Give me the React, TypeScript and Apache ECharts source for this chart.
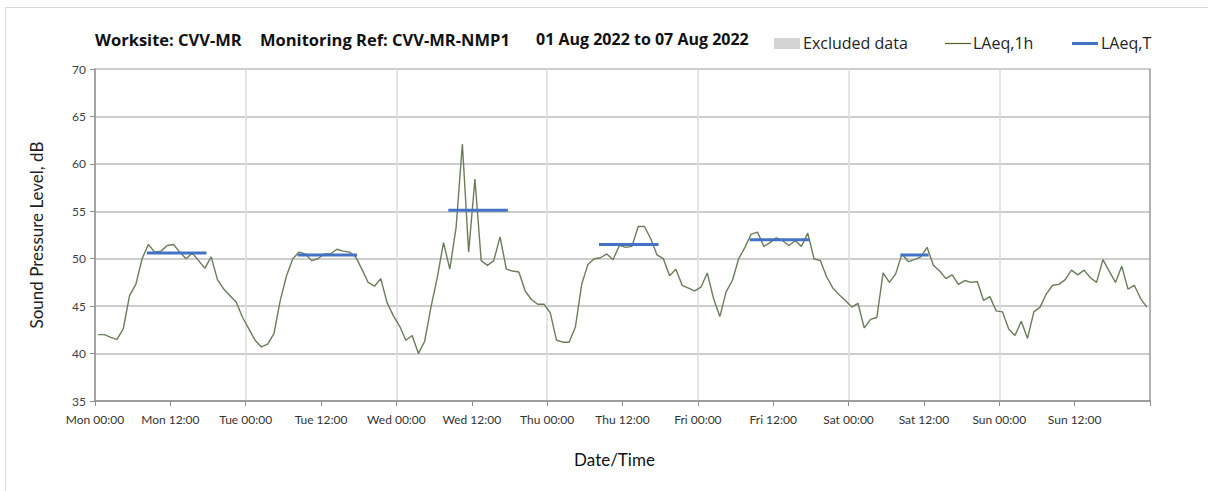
import React, { useEffect, useRef } from 'react';
import * as echarts from 'echarts';

// Tick labels for the x axis (every 12 hours from Mon 00:00)
const xTickLabels = [
  'Mon 00:00', 'Mon 12:00', 'Tue 00:00', 'Tue 12:00', 'Wed 00:00', 'Wed 12:00',
  'Thu 00:00', 'Thu 12:00', 'Fri 00:00', 'Fri 12:00', 'Sat 00:00', 'Sat 12:00',
  'Sun 00:00', 'Sun 12:00',
];

// Hourly LAeq,1h values (dB), Mon 00:00 .. Sun 23:00
const laeqMon = [42.0, 42.0, 41.7, 41.5, 42.6, 46.1, 47.3, 50.0, 51.5, 50.7, 50.8, 51.4, 51.5, 50.7, 50.0, 50.6, 49.8, 49.0, 50.2, 47.8, 46.8, 46.1, 45.4, 43.8];
const laeqTue = [42.6, 41.4, 40.7, 41.0, 42.1, 45.6, 48.2, 50.0, 50.7, 50.5, 49.8, 50.0, 50.5, 50.5, 51.0, 50.8, 50.7, 50.2, 48.9, 47.5, 47.1, 47.9, 45.4, 44.0];
const laeqWed = [42.9, 41.4, 41.9, 40.0, 41.3, 44.9, 48.0, 51.7, 48.9, 53.3, 62.1, 50.7, 58.4, 49.8, 49.3, 49.8, 52.3, 48.9, 48.7, 48.6, 46.6, 45.7, 45.2, 45.2];
const laeqThu = [44.3, 41.4, 41.2, 41.2, 42.8, 47.3, 49.4, 50.0, 50.1, 50.5, 49.9, 51.4, 51.2, 51.3, 53.4, 53.4, 52.1, 50.4, 50.0, 48.2, 48.9, 47.2, 46.9, 46.6];
const laeqFri = [47.0, 48.5, 45.8, 43.9, 46.5, 47.7, 50.0, 51.2, 52.6, 52.8, 51.3, 51.7, 52.2, 51.9, 51.4, 51.9, 51.3, 52.7, 50.0, 49.8, 48.1, 46.9, 46.2, 45.6];
const laeqSat = [44.9, 45.3, 42.7, 43.6, 43.8, 48.5, 47.5, 48.4, 50.5, 49.7, 49.9, 50.2, 51.2, 49.3, 48.7, 47.9, 48.3, 47.3, 47.7, 47.5, 47.6, 45.6, 46.0, 44.5];
const laeqSun = [44.4, 42.6, 41.9, 43.4, 41.6, 44.4, 44.9, 46.3, 47.2, 47.3, 47.8, 48.8, 48.3, 48.8, 48.0, 47.5, 49.9, 48.7, 47.5, 49.2, 46.8, 47.2, 45.8, 44.9];

// LAeq,T daytime periods: day index, first and last hour, value (dB)
const laeqTDay = [0, 1, 2, 3, 4, 5];
const laeqTFirstHour = [8, 8, 8, 8, 8, 8];
const laeqTLastHour = [17, 17, 17, 17, 17, 12];
const laeqTValue = [50.6, 50.4, 55.1, 51.5, 52.0, 50.4];

const FONT = 'Lato, "Open Sans", sans-serif';
const WIDE_FONT = '"Open Sans", Lato, sans-serif';

export default function App() {
  const ref = useRef<HTMLDivElement>(null);

  useEffect(() => {
    if (!ref.current) return;
    const chart = echarts.init(ref.current, undefined, { renderer: 'svg' });

    const hourly = [...laeqMon, ...laeqTue, ...laeqWed, ...laeqThu, ...laeqFri, ...laeqSat, ...laeqSun];
    // each hourly value sits in the middle of its hour
    const lineData = hourly.map((v, i) => [i + 0.5, v]);

    const tSeries = laeqTDay.map((d, k) => ({
      name: 'LAeq,T',
      type: 'line',
      data: [
        [d * 24 + laeqTFirstHour[k] + 0.5, laeqTValue[k]],
        [d * 24 + laeqTLastHour[k] + 0.5, laeqTValue[k]],
      ],
      showSymbol: false,
      symbol: 'none',
      lineStyle: { color: '#4472c4', width: 3, cap: 'square' },
      z: 3,
      silent: true,
    }));

    chart.setOption({
      animation: false,
      textStyle: { fontFamily: FONT },
      grid: { left: 95, right: 58, top: 69, bottom: 90, containLabel: false },
      xAxis: {
        type: 'value',
        min: 0,
        max: 168,
        interval: 12,
        name: 'Date/Time',
        nameLocation: 'middle',
        nameGap: 50,
        nameTextStyle: { fontSize: 17, color: '#111', fontFamily: FONT, padding: [0, 16, 0, 0] },
        axisLine: { show: true, lineStyle: { color: '#8c8c8c', width: 1.5 } },
        axisTick: { show: true, length: 5, lineStyle: { color: '#8c8c8c' } },
        axisLabel: {
          fontSize: 12,
          color: '#333',
          margin: 12,
          fontFamily: FONT,
          formatter: (v: number) => xTickLabels[Math.round(v / 12)] ?? '',
        },
        splitLine: { show: true, lineStyle: { color: ['#dcdcdc', 'rgba(0,0,0,0)'], width: 1.5 } },
      },
      yAxis: [
        {
          type: 'value',
          min: 35,
          max: 70,
          interval: 5,
          name: 'Sound Pressure Level, dB',
          nameLocation: 'middle',
          nameGap: 50,
          nameRotate: 90,
          nameTextStyle: { fontSize: 17, color: '#222', fontFamily: FONT },
          axisLine: { show: true, lineStyle: { color: '#8c8c8c', width: 1.5 } },
          axisTick: { show: true, length: 5, lineStyle: { color: '#8c8c8c' } },
          axisLabel: { fontSize: 12, color: '#404040', margin: 9, fontFamily: FONT },
          splitLine: { show: true, lineStyle: { color: '#bcbcbc', width: 1.5 } },
        },
        {
          type: 'value',
          min: 35,
          max: 70,
          interval: 5,
          position: 'right',
          axisLine: { show: true, lineStyle: { color: '#a0a0a0', width: 1.5 } },
          axisTick: { show: false },
          axisLabel: { show: false },
          splitLine: { show: false },
        },
      ],
      series: [
        {
          name: 'LAeq,1h',
          type: 'line',
          data: lineData,
          showSymbol: false,
          symbol: 'none',
          lineStyle: { color: '#6a7d5a', width: 1.4 },
          z: 2,
          silent: true,
        },
        ...tSeries,
      ],
      graphic: [
        {
          type: 'rect',
          shape: { x: 5.5, y: 7.5, width: 1400, height: 700 },
          style: { fill: 'none', stroke: '#d9d9d9', lineWidth: 1 },
          silent: true,
        },
        {
          type: 'text', x: 95, y: 39,
          style: { text: 'Worksite: CVV-MR', fontSize: 16.5, fontWeight: 'bold', fill: '#111', fontFamily: WIDE_FONT, verticalAlign: 'middle' },
        },
        {
          type: 'text', x: 260, y: 39,
          style: { text: 'Monitoring Ref: CVV-MR-NMP1', fontSize: 16.5, fontWeight: 'bold', fill: '#111', fontFamily: WIDE_FONT, verticalAlign: 'middle' },
        },
        {
          type: 'text', x: 536, y: 39,
          style: { text: '01 Aug 2022 to 07 Aug 2022', fontSize: 16, fontWeight: 'bold', fill: '#111', fontFamily: WIDE_FONT, verticalAlign: 'middle' },
        },
        // legend
        {
          type: 'rect',
          shape: { x: 774, y: 38, width: 26, height: 11 },
          style: { fill: '#d4d4d4' },
        },
        {
          type: 'text', x: 803, y: 43,
          style: { text: 'Excluded data', fontSize: 16, fill: '#222', fontFamily: WIDE_FONT, verticalAlign: 'middle' },
        },
        {
          type: 'line',
          shape: { x1: 945, y1: 43.5, x2: 971, y2: 43.5 },
          style: { stroke: '#4f6228', lineWidth: 1.2 },
        },
        {
          type: 'text', x: 973, y: 43,
          style: { text: 'LAeq,1h', fontSize: 16, fill: '#222', fontFamily: WIDE_FONT, verticalAlign: 'middle' },
        },
        {
          type: 'line',
          shape: { x1: 1072, y1: 43.5, x2: 1098, y2: 43.5 },
          style: { stroke: '#4472c4', lineWidth: 3 },
        },
        {
          type: 'text', x: 1101, y: 43,
          style: { text: 'LAeq,T', fontSize: 16, fill: '#222', fontFamily: WIDE_FONT, verticalAlign: 'middle' },
        },
      ],
    });

    return () => chart.dispose();
  }, []);

  return <div ref={ref} style={{ width: 1208, height: 491, position: 'absolute', left: 0, top: 0 }} />;
}
